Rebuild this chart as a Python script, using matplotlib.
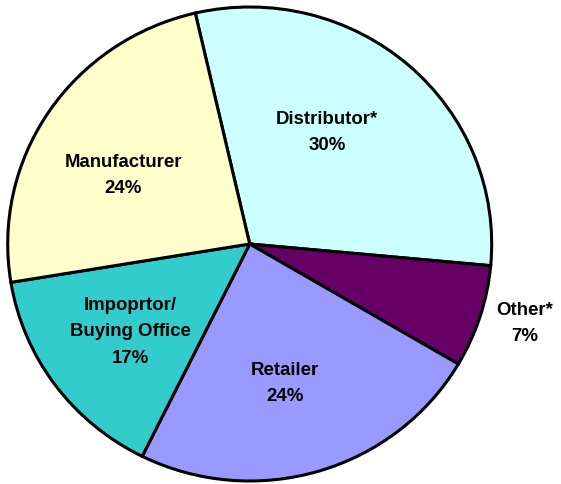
import matplotlib
matplotlib.use("Agg")
import matplotlib.pyplot as plt

categories = ["Distributor*", "Other*", "Retailer", "Impoprtor/\nBuying Office", "Manufacturer"]
values = [30.1, 7.0, 23.9, 15.1, 24.0]
pct_labels = ["30%", "7%", "24%", "17%", "24%"]
colors = ["#CCFFFF", "#660066", "#9999FF", "#33CCCC", "#FFFFCC"]
label_pos = [(0.319, 0.475), (1.138, -0.33), (0.146, -0.583), (-0.494, -0.367), (-0.523, 0.295)]

plt.rcParams['font.family'] = ['Liberation Sans', 'DejaVu Sans']
fig = plt.figure(figsize=(5.61, 4.85), dpi=100)
ax = fig.add_axes([7.7 / 561, 3 / 485, 484 / 561, 474 / 485])
ax.pie(values, colors=colors, startangle=103, counterclock=False,
       wedgeprops=dict(edgecolor="black", linewidth=2.2))
ax.set_aspect("auto")
ax.set_xlim(-1, 1)
ax.set_ylim(-1, 1)
for cat, pct, (x, y) in zip(categories, pct_labels, label_pos):
    ax.text(x, y, f"{cat}\n{pct}", ha="center", va="center", fontsize=13.4,
            fontweight="bold", linespacing=1.7, clip_on=False)
fig.savefig("out.png", dpi=100)
